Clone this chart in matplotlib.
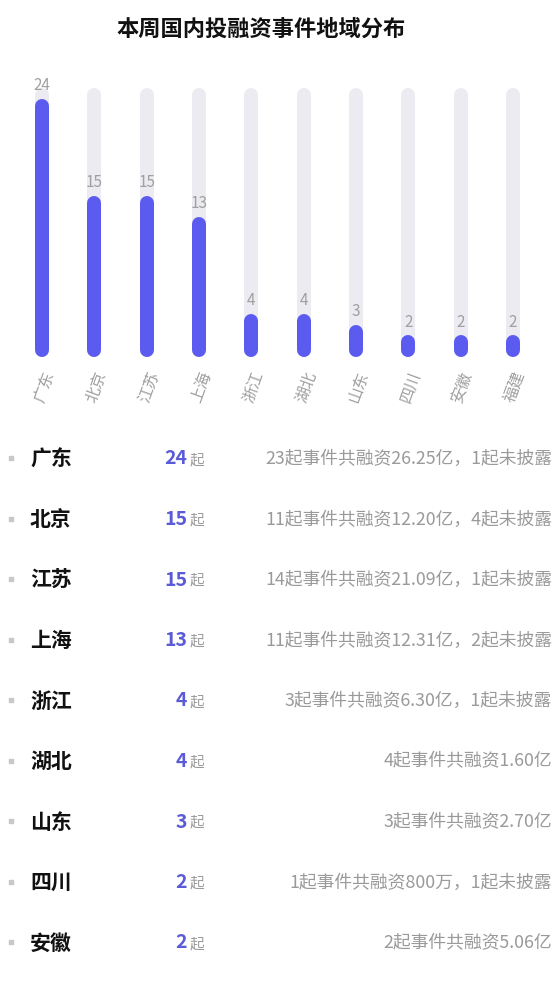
import numpy as np
import matplotlib
matplotlib.use("Agg")
import matplotlib.pyplot as plt

plt.rcParams['font.family'] = ['Noto Sans CJK SC', 'DejaVu Sans']

# data
regions = ['广东', '北京', '江苏', '上海', '浙江', '湖北', '山东', '四川', '安徽', '福建']
counts = [24, 15, 15, 13, 4, 4, 3, 2, 2, 2]
bg_max = 25
details = ['23起事件共融资26.25亿，1起未披露',
           '11起事件共融资12.20亿，4起未披露',
           '14起事件共融资21.09亿，1起未披露',
           '11起事件共融资12.31亿，2起未披露',
           '3起事件共融资6.30亿，1起未披露',
           '4起事件共融资1.60亿',
           '3起事件共融资2.70亿',
           '1起事件共融资800万，1起未披露',
           '2起事件共融资5.06亿']

bar_col = '#5b5bef'
bg_col = '#ebebf1'
grey = '#9a9a9a'

W, H = 555, 987
fig = plt.figure(figsize=(W / 100, H / 100), dpi=100)
fig.patch.set_facecolor('white')

fig.text(261 / W, 1 - 29 / H, '本周国内投融资事件地域分布', ha='center', va='center',
         fontsize=16, fontweight='bold', color='#111111')

# bar chart
ax = fig.add_axes([16 / W, (H - 358) / H, 523 / W, 269 / H])
x = np.arange(len(regions))
lw_px = 14
r = lw_px / 2 / 269 * bg_max   # cap radius in data units
ax.vlines(x, r, bg_max - r, colors=bg_col, linewidth=lw_px * 0.72, capstyle='round')
ax.vlines(x, r, np.array(counts) - r, colors=bar_col, linewidth=lw_px * 0.72, capstyle='round')
for xi, v in zip(x, counts):
    ax.text(xi, v + 0.55, str(v), ha='center', va='bottom', fontsize=11, color='#a0a0a0')
ax.set_xlim(-0.5, len(regions) - 0.5)
ax.set_ylim(0, bg_max)
ax.set_xticks(x)
ax.set_xticklabels(regions, rotation=70, ha='right', va='top', rotation_mode='anchor',
                   fontsize=11.5, color='#a0a0a0')
ax.tick_params(axis='x', length=0, pad=8)
ax.set_yticks([])
for s in ax.spines.values():
    s.set_visible(False)

# table below
tx = fig.add_axes([0, 0, 1, 1], zorder=-1)
tx.set_xlim(0, W)
tx.set_ylim(H, 0)
tx.axis('off')
for i, (name, c, d) in enumerate(zip(regions, counts, details)):
    y = 459 + i * 60.5
    tx.scatter([11], [y], s=10, marker='s', color='#c8c8c8')
    tx.text(30, y, name, ha='left', va='center', fontsize=15, fontweight='bold', color='#111111')
    tx.text(187, y, str(c), ha='right', va='center', fontsize=14, fontweight='bold', color='#5b5bd8')
    tx.text(190, y + 1, '起', ha='left', va='center', fontsize=10.5, color=grey)
    tx.text(552, y, d, ha='right', va='center', fontsize=12.8, color=grey)

fig.savefig('out.png', dpi=100)
